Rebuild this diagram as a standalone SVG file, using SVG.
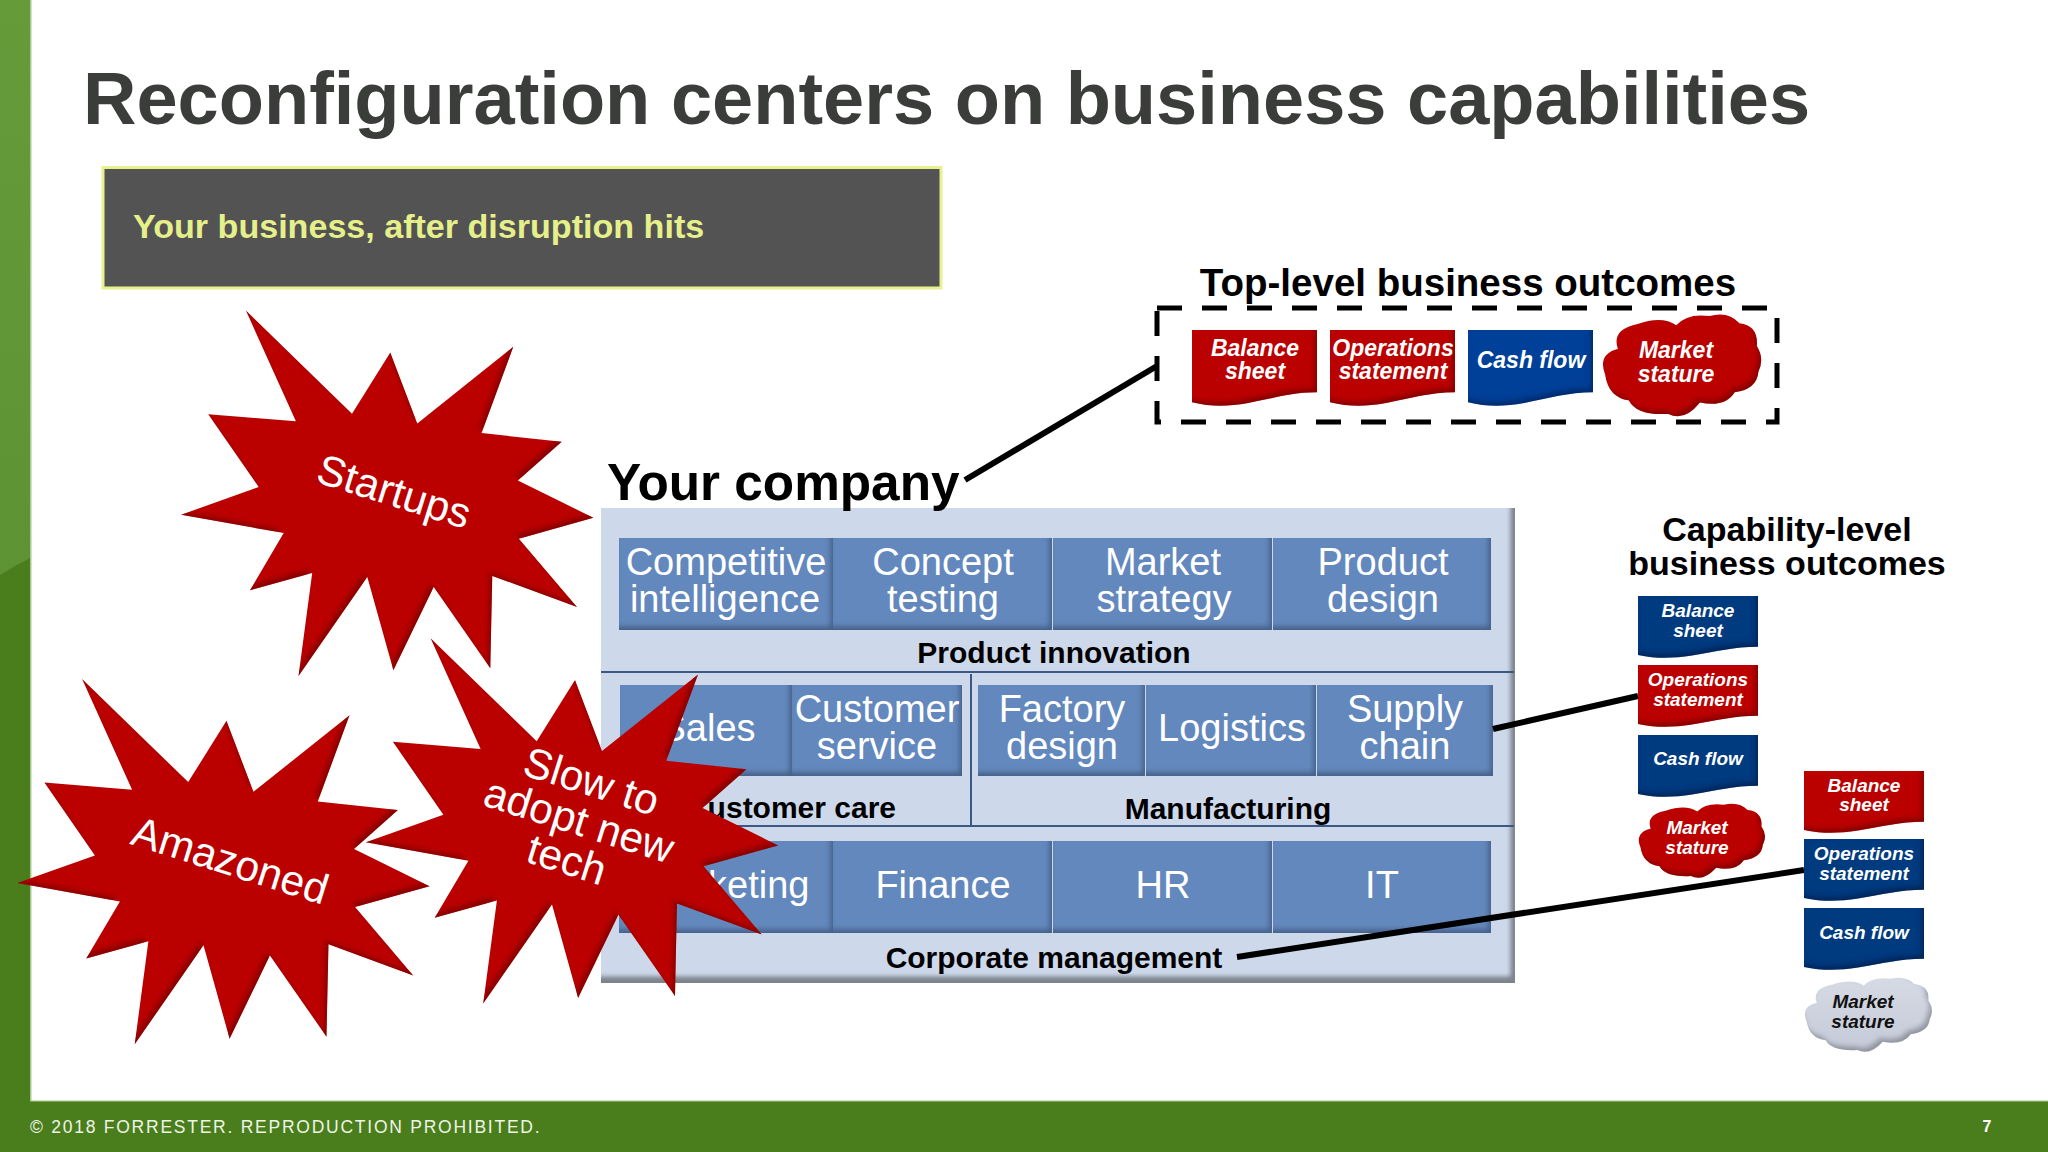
<svg xmlns="http://www.w3.org/2000/svg" xmlns:xlink="http://www.w3.org/1999/xlink" width="2048" height="1152" viewBox="0 0 2048 1152">
<style>
text{font-family:"Liberation Sans",Arial,sans-serif}
.cell{fill:#6488bd}
.ct{fill:#fff;font-size:38px;text-anchor:middle}
.lb{fill:#000;font-size:30px;font-weight:bold;text-anchor:middle}
.t1{fill:#fff;font-size:23px;font-weight:bold;font-style:italic;text-anchor:middle}
.t2{fill:#fff;font-size:19px;font-weight:bold;font-style:italic;text-anchor:middle}
.st{fill:#fff;font-size:42.5px;text-anchor:middle}
.conn{stroke:#000;stroke-width:6;fill:none}
.div{stroke:#3a5a85;stroke-width:2;fill:none}
.red{fill:#bb0000}.blue{fill:#003f98}.navy{fill:#003a80}
</style>
<defs>
<linearGradient id="barG" x1="0" y1="0" x2="0" y2="1"><stop offset="0" stop-color="#659b39"/><stop offset="1" stop-color="#5e9334"/></linearGradient>
<linearGradient id="cloudG" x1="0" y1="0" x2="0" y2="1"><stop offset="0" stop-color="#d6dae4"/><stop offset="1" stop-color="#c4cad8"/></linearGradient>
<filter id="bevel" x="-10%" y="-10%" width="120%" height="120%"><feGaussianBlur in="SourceAlpha" stdDeviation="2.5"/><feOffset dx="-3" dy="-4"/><feComposite in2="SourceAlpha" operator="arithmetic" k2="-1" k3="1" result="s"/><feFlood flood-color="#000" flood-opacity=".5"/><feComposite in2="s" operator="in" result="c"/><feMerge><feMergeNode in="SourceGraphic"/><feMergeNode in="c"/></feMerge></filter>
<filter id="panelB" x="-2%" y="-2%" width="104%" height="104%"><feGaussianBlur in="SourceAlpha" stdDeviation="2"/><feOffset dx="-5" dy="-7"/><feComposite in2="SourceAlpha" operator="arithmetic" k2="-1" k3="1" result="s"/><feFlood flood-color="#333" flood-opacity=".7"/><feComposite in2="s" operator="in" result="c"/><feMerge><feMergeNode in="SourceGraphic"/><feMergeNode in="c"/></feMerge></filter>
<path id="doc" d="M0,0H100V82C80,82 65,90 45,96C28,101 15,101 0,95Z"/>
<path id="cloud" d="M2,58Q-3,38 10,33Q6,14 22,9Q38,0 47,10Q54,-2 68,1Q80,-4 87,8Q99,10 98,30Q103,42 99,55Q98,72 84,75Q78,90 62,85Q52,104 42,96Q22,98 17,83Q4,80 2,58Z"/>
<path id="star" d="M245.9,310.6L352,413.7L390.3,352.4L417.3,423.4L513.3,346.8L481.6,433.1L561.7,441.7L517.9,480.5L593.4,517.8L518.9,538.7L577,607L492.3,575.9L490.3,668.3L433.7,587.1L393.4,670.3L367.3,576.9L298.5,675.9L312.2,572.9L250,590.2L283.7,533.1L181.1,514.7L258.7,487.1L208.2,414.2L295.9,421.3Z"/>
</defs>
<g id="background">
<rect width="2048" height="1152" fill="#fff"/>
<rect x="0" y="0" width="30" height="1152" fill="#4a7e1c"/>
<path d="M0,0H30V558Q14,566 0,575Z" fill="url(#barG)"/>
<rect x="30" y="0" width="1.5" height="1101" fill="#a9c88f"/>
<rect x="0" y="1101" width="2048" height="51" fill="#4a7e1c"/>
<rect x="30" y="1100.5" width="2018" height="1" fill="#a9c88f"/>
<text x="30" y="1133" fill="#eef4e6" font-size="17.5" letter-spacing="1.75">© 2018 FORRESTER. REPRODUCTION PROHIBITED.</text>
<text x="1987" y="1132" fill="#fff" font-size="16" font-weight="bold" text-anchor="middle">7</text>
</g>
<text id="title" x="83" y="124" fill="#3a3d3a" font-size="74" font-weight="bold">Reconfiguration centers on business capabilities</text>
<g id="banner">
<rect x="103" y="167.5" width="838" height="120.500" fill="#535353" stroke="#e9f08e" stroke-width="3"/>
<text x="133" y="238" fill="#e6f08a" font-size="34.100" font-weight="bold">Your business, after disruption hits</text>
</g>
<g id="panel">
<rect x="601" y="508" width="914" height="475" fill="#cdd9ea" filter="url(#panelB)"/>
<path class="div" d="M601,672H1514M601,826H1514M971,674V826"/>
</g>
<g id="row1" font-size="38">
<g id="cell-competitive"><rect class="cell" x="619" y="538" width="214" height="92" filter="url(#bevel)"/><text class="ct" x="726" y="575">Competitive</text><text class="ct" x="725" y="612">intelligence</text></g>
<g id="cell-concept"><rect class="cell" x="833" y="538" width="219" height="92" filter="url(#bevel)"/><text class="ct" x="943" y="575">Concept</text><text class="ct" x="943" y="612">testing</text></g>
<g id="cell-market"><rect class="cell" x="1053" y="538" width="219" height="92" filter="url(#bevel)"/><text class="ct" x="1163" y="575">Market</text><text class="ct" x="1164" y="612">strategy</text></g>
<g id="cell-product"><rect class="cell" x="1273" y="538" width="218" height="92" filter="url(#bevel)"/><text class="ct" x="1383" y="575">Product</text><text class="ct" x="1383" y="612">design</text></g>
<text id="label-innovation" class="lb" x="1054" y="663">Product innovation</text>
</g>
<g id="row2">
<g id="cell-sales"><rect class="cell" x="620" y="685" width="172" height="91" filter="url(#bevel)"/><text class="ct" x="708" y="741">Sales</text></g>
<g id="cell-service"><rect class="cell" x="792" y="685" width="170" height="91" filter="url(#bevel)"/><text class="ct" x="877" y="722">Customer</text><text class="ct" x="877" y="759">service</text></g>
<g id="cell-factory"><rect class="cell" x="978" y="685" width="167" height="91" filter="url(#bevel)"/><text class="ct" x="1062" y="722">Factory</text><text class="ct" x="1062" y="759">design</text></g>
<g id="cell-logistics"><rect class="cell" x="1146" y="685" width="170" height="91" filter="url(#bevel)"/><text class="ct" x="1232" y="741">Logistics</text></g>
<g id="cell-supply"><rect class="cell" x="1317" y="685" width="176" height="91" filter="url(#bevel)"/><text class="ct" x="1405" y="722">Supply</text><text class="ct" x="1405" y="759">chain</text></g>
<text id="label-care" class="lb" x="791" y="818">Customer care</text>
<text id="label-mfg" class="lb" x="1228" y="819">Manufacturing</text>
</g>
<g id="row3">
<g id="cell-marketing"><rect class="cell" x="619" y="841" width="214" height="92" filter="url(#bevel)"/><text class="ct" x="726" y="898">Marketing</text></g>
<g id="cell-finance"><rect class="cell" x="833" y="841" width="219" height="92" filter="url(#bevel)"/><text class="ct" x="943" y="898">Finance</text></g>
<g id="cell-hr"><rect class="cell" x="1053" y="841" width="219" height="92" filter="url(#bevel)"/><text class="ct" x="1163" y="898">HR</text></g>
<g id="cell-it"><rect class="cell" x="1273" y="841" width="218" height="92" filter="url(#bevel)"/><text class="ct" x="1382" y="898">IT</text></g>
<text id="label-corp" class="lb" x="1054" y="968">Corporate management</text>
</g>
<text id="your-company" x="607" y="500" fill="#000" font-size="51.300" font-weight="bold">Your company</text>
<g id="connectors">
<path class="conn" d="M965,480L1157,366"/>
<path class="conn" d="M1493,729L1638,696"/>
<path class="conn" d="M1237,957L1804,870"/>
</g>
<g id="top-level">
<text x="1468" y="296" fill="#000" font-size="38.500" font-weight="bold" text-anchor="middle">Top-level business outcomes</text>
<rect x="1157" y="308" width="620" height="114" fill="none" stroke="#000" stroke-width="5" stroke-dasharray="25 20"/>
<g id="top-balance"><g filter="url(#bevel)"><use href="#doc" class="red" transform="translate(1192,330) scale(1.25,.76)"/></g><text class="t1" x="1255" y="356">Balance</text><text class="t1" x="1255" y="379">sheet</text></g>
<g id="top-ops"><g filter="url(#bevel)"><use href="#doc" class="red" transform="translate(1330,330) scale(1.25,.76)"/></g><text class="t1" x="1393" y="356">Operations</text><text class="t1" x="1393" y="379">statement</text></g>
<g id="top-cash"><g filter="url(#bevel)"><use href="#doc" class="blue" transform="translate(1468,330) scale(1.25,.76)"/></g><text class="t1" x="1531" y="368">Cash flow</text></g>
<g id="top-market"><g filter="url(#bevel)"><use href="#cloud" class="red" transform="translate(1602,315) scale(1.58,1.03)"/></g><text class="t1" x="1676" y="358">Market</text><text class="t1" x="1676" y="382">stature</text></g>
</g>
<g id="capability-1">
<text x="1787" y="541" fill="#000" font-size="34" font-weight="bold" text-anchor="middle">Capability-level</text>
<text x="1787" y="575" fill="#000" font-size="34" font-weight="bold" text-anchor="middle">business outcomes</text>
<g id="c1-balance"><g filter="url(#bevel)"><use href="#doc" class="navy" transform="translate(1638,596) scale(1.2,.62)"/></g><text class="t2" x="1698" y="617">Balance</text><text class="t2" x="1698" y="637">sheet</text></g>
<g id="c1-ops"><g filter="url(#bevel)"><use href="#doc" class="red" transform="translate(1638,665) scale(1.2,.62)"/></g><text class="t2" x="1698" y="686">Operations</text><text class="t2" x="1698" y="706">statement</text></g>
<g id="c1-cash"><g filter="url(#bevel)"><use href="#doc" class="navy" transform="translate(1638,735) scale(1.2,.62)"/></g><text class="t2" x="1698" y="765">Cash flow</text></g>
<g id="c1-market"><g filter="url(#bevel)"><use href="#cloud" class="red" transform="translate(1638,804) scale(1.26,.75)"/></g><text class="t2" x="1697" y="834">Market</text><text class="t2" x="1697" y="854">stature</text></g>
</g>
<g id="capability-2">
<g id="c2-balance"><g filter="url(#bevel)"><use href="#doc" class="red" transform="translate(1804,771) scale(1.2,.62)"/></g><text class="t2" x="1864" y="792">Balance</text><text class="t2" x="1864" y="811">sheet</text></g>
<g id="c2-ops"><g filter="url(#bevel)"><use href="#doc" class="navy" transform="translate(1804,839) scale(1.2,.62)"/></g><text class="t2" x="1864" y="860">Operations</text><text class="t2" x="1864" y="880">statement</text></g>
<g id="c2-cash"><g filter="url(#bevel)"><use href="#doc" class="navy" transform="translate(1804,908) scale(1.2,.62)"/></g><text class="t2" x="1864" y="939">Cash flow</text></g>
<g id="c2-market"><g filter="url(#bevel)"><use href="#cloud" fill="url(#cloudG)" transform="translate(1804,978) scale(1.27,.75)"/></g><text class="t2" x="1863" y="1008" style="fill:#111">Market</text><text class="t2" x="1863" y="1028" style="fill:#111">stature</text></g>
</g>
<g id="star-startups"><g filter="url(#bevel)"><use href="#star" class="red"/></g><text class="st" transform="rotate(17.5 394 492)" x="394" y="506">Startups</text></g>
<g id="star-amazoned"><g filter="url(#bevel)"><use href="#star" class="red" transform="translate(-163.8,368.4)"/></g><text class="st" transform="rotate(17.5 230 861)" x="230" y="875">Amazoned</text></g>
<g id="star-slow"><g filter="url(#bevel)"><use href="#star" class="red" transform="translate(184.7,327.6)"/></g><g transform="rotate(17.5 579 821)"><text class="st" x="579" y="794">Slow to</text><text class="st" x="579" y="835">adopt new</text><text class="st" x="579" y="876">tech</text></g></g>
</svg>
